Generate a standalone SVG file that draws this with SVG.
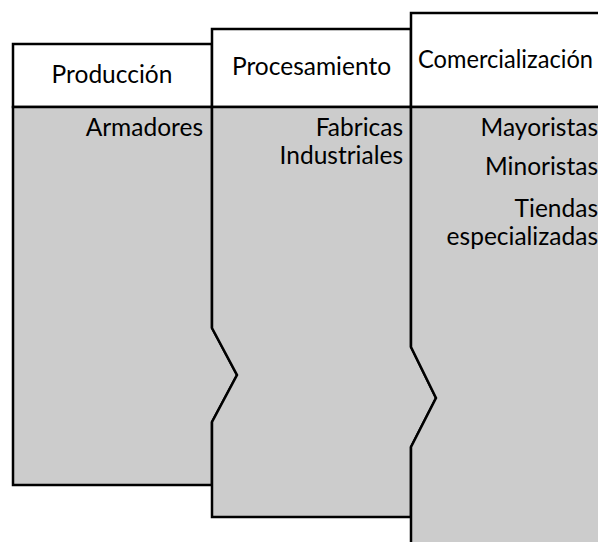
<svg xmlns="http://www.w3.org/2000/svg" width="598" height="542" viewBox="0 0 598 542">
<style>
.hdr{fill:#ffffff;stroke:#000;stroke-width:2.5}
.body{fill:#cccccc;stroke:#000;stroke-width:2.5;stroke-linejoin:miter}
text{font-family:Lato,"Open Sans","Liberation Sans",sans-serif;font-size:24.5px;fill:#000}
.e{text-anchor:end}
.m{text-anchor:middle}
</style>
<rect width="598" height="542" fill="#ffffff"/>
<g id="produccion">
<rect class="hdr" x="13" y="44" width="199" height="63"/>
<polygon class="body" points="13,107 212,107 212,328 237,375 212,422 212,485 13,485"/>
<text class="m" x="112" y="83">Producción</text>
<text class="e" x="203" y="136">Armadores</text>
</g>
<g id="procesamiento">
<rect class="hdr" x="212" y="29" width="199" height="78"/>
<polygon class="body" points="212,107 411,107 411,347 436,398 411,447 411,517 212,517 212,422 237,375 212,328"/>
<text class="m" x="311.5" y="75">Procesamiento</text>
<text class="e" x="403" y="136">Fabricas</text>
<text class="e" x="403" y="164">Industriales</text>
</g>
<g id="comercializacion">
<rect class="hdr" x="411" y="13" width="200" height="94"/>
<polygon class="body" points="411,107 611,107 611,550 411,550 411,447 436,398 411,347"/>
<text x="418" y="68" textLength="175" lengthAdjust="spacingAndGlyphs">Comercialización</text>
<text class="e" x="598" y="136">Mayoristas</text>
<text class="e" x="598" y="175">Minoristas</text>
<text class="e" x="598" y="217">Tiendas</text>
<text class="e" x="598" y="245">especializadas</text>
</g>
<g id="connectors"/>
</svg>
